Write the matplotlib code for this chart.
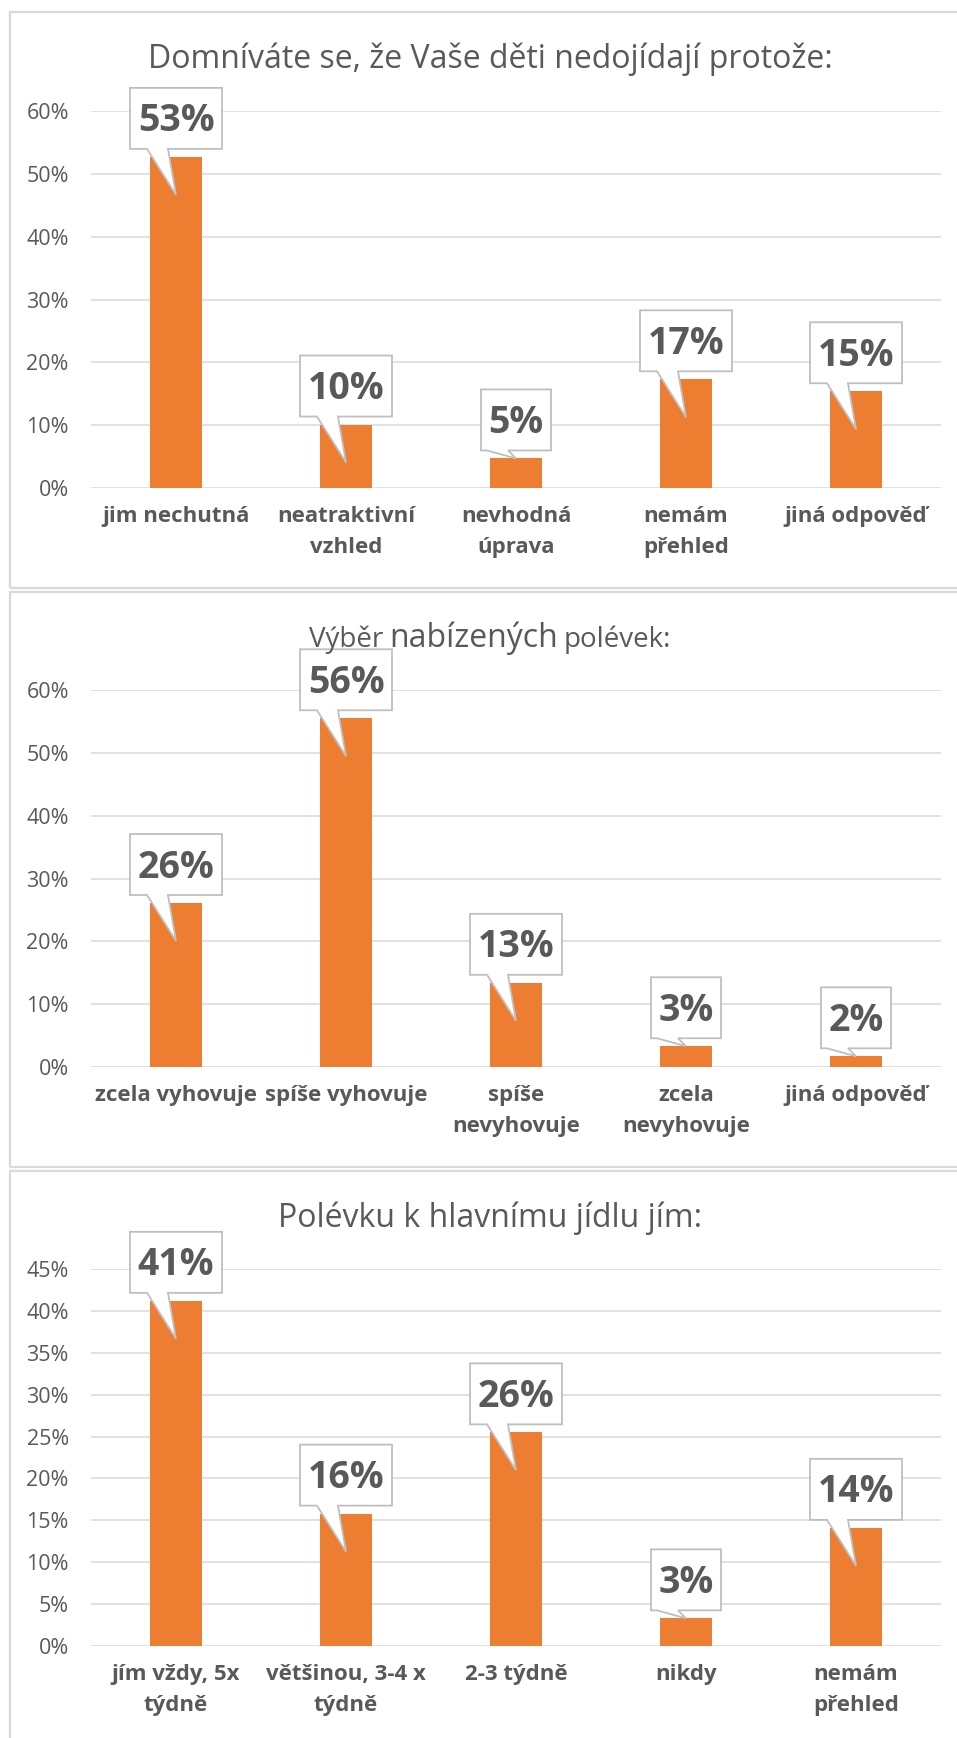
import matplotlib.pyplot as plt
from matplotlib.patches import Polygon, Rectangle
import numpy as np

W, H = 957, 1738
DPI = 100
TXT = '#595959'
ORANGE = '#ED7D31'
GRID = '#d9d9d9'

# --- data ---
title1 = 'Domníváte se, že Vaše děti nedojídají protože:'
cats1 = ['jim nechutná', 'neatraktivní\nvzhled', 'nevhodná\núprava', 'nemám\npřehled', 'jiná odpověď']
vals1 = [52.7, 10.1, 4.7, 17.3, 15.4]
lab1 = ['53%', '10%', '5%', '17%', '15%']
ticks1 = list(range(0, 61, 10))

title2 = ['Výběr', 'nabízených', 'polévek:']
title2_sizes = [20, 23, 20]
cats2 = ['zcela vyhovuje', 'spíše vyhovuje', 'spíše\nnevyhovuje', 'zcela\nnevyhovuje', 'jiná odpověď']
vals2 = [26.1, 55.5, 13.4, 3.3, 1.7]
lab2 = ['26%', '56%', '13%', '3%', '2%']
ticks2 = list(range(0, 61, 10))

title3 = 'Polévku k hlavnímu jídlu jím:'
cats3 = ['jím vždy, 5x\ntýdně', 'většinou, 3-4 x\ntýdně', '2-3 týdně', 'nikdy', 'nemám\npřehled']
vals3 = [41.2, 15.8, 25.5, 3.3, 14.1]
lab3 = ['41%', '16%', '26%', '3%', '14%']
ticks3 = list(range(0, 46, 5))

plt.rcParams['font.family'] = ['Open Sans', 'DejaVu Sans']

fig = plt.figure(figsize=(W / DPI, H / DPI), dpi=DPI)


def fx(px):
    return px / W


def fy(py):
    return 1 - py / H


def frame(top, bottom):
    fig.patches.append(Rectangle((fx(10), fy(bottom)), fx(1000), (bottom - top) / H,
                                 transform=fig.transFigure, fill=False, ec=GRID, lw=1.6))


def callout(ax, xi, v, text):
    bx, by = ax.transData.transform((xi, v))
    y0 = ax.transData.transform((xi, 0))[1]
    w = 92 if len(text) >= 3 else 70
    h = 61
    bottom = by + 8
    top = bottom + h
    tip = by - 38 if (by - y0) > 45 else by
    pts = [(bx - w / 2, top), (bx + w / 2, top), (bx + w / 2, bottom), (bx - 8, bottom),
           (bx, tip), (bx - 29, bottom), (bx - w / 2, bottom)]
    inv = ax.transData.inverted()
    ax.add_patch(Polygon(inv.transform(pts), closed=True, fc='white', ec='#bfbfbf',
                         lw=1.3, zorder=4, clip_on=False))
    cx, cy = inv.transform((bx, bottom + h / 2 - 13))
    ax.text(cx, cy, text, ha='center', va='baseline', fontsize=27, fontweight='bold',
            color=TXT, zorder=5)


def panel(top_px, bottom_px, cats, vals, labels, ticks):
    ax = fig.add_axes([fx(91), fy(bottom_px), 850 / W, (bottom_px - top_px) / H])
    x = np.arange(len(cats))
    ax.bar(x, vals, width=0.31, color=ORANGE, zorder=2)
    ax.set_xlim(-0.5, len(cats) - 0.5)
    ax.set_ylim(0, ticks[-1])
    ax.set_yticks(ticks)
    ax.set_yticklabels([f'{t}%' for t in ticks])
    ax.set_xticks(x)
    ax.set_xticklabels(cats, fontweight='bold', fontsize=16, linespacing=1.65)
    ax.tick_params(axis='y', length=0, pad=16, labelsize=15.5, labelcolor=TXT)
    ax.tick_params(axis='x', length=0, pad=13, labelcolor=TXT)
    ax.grid(axis='y', color=GRID, lw=1.1)
    ax.set_axisbelow(True)
    for s in ax.spines.values():
        s.set_visible(False)
    for xi, v, t in zip(x, vals, labels):
        callout(ax, xi, v, t)
    return ax


frame(12, 588)
frame(592, 1167)
frame(1171, 1760)

panel(111, 488, cats1, vals1, lab1, ticks1)
panel(690, 1067, cats2, vals2, lab2, ticks2)
panel(1269, 1646, cats3, vals3, lab3, ticks3)

fig.text(fx(490), fy(68), title1, ha='center', va='baseline', fontsize=23, color=TXT)
fig.text(fx(490), fy(1227), title3, ha='center', va='baseline', fontsize=23, color=TXT)

# mixed-size title of the middle chart
pieces = [fig.text(0, fy(647), t, ha='left', va='baseline', fontsize=s, color=TXT)
          for t, s in zip(title2, title2_sizes)]
fig.canvas.draw()
r = fig.canvas.get_renderer()
widths = [p.get_window_extent(r).width for p in pieces]
gaps = [6, 5]
total = sum(widths) + sum(gaps)
xpos = 490 - total / 2
for i, p in enumerate(pieces):
    p.set_x(fx(xpos))
    xpos += widths[i] + (gaps[i] if i < len(gaps) else 0)

fig.savefig('out.png', dpi=DPI)
